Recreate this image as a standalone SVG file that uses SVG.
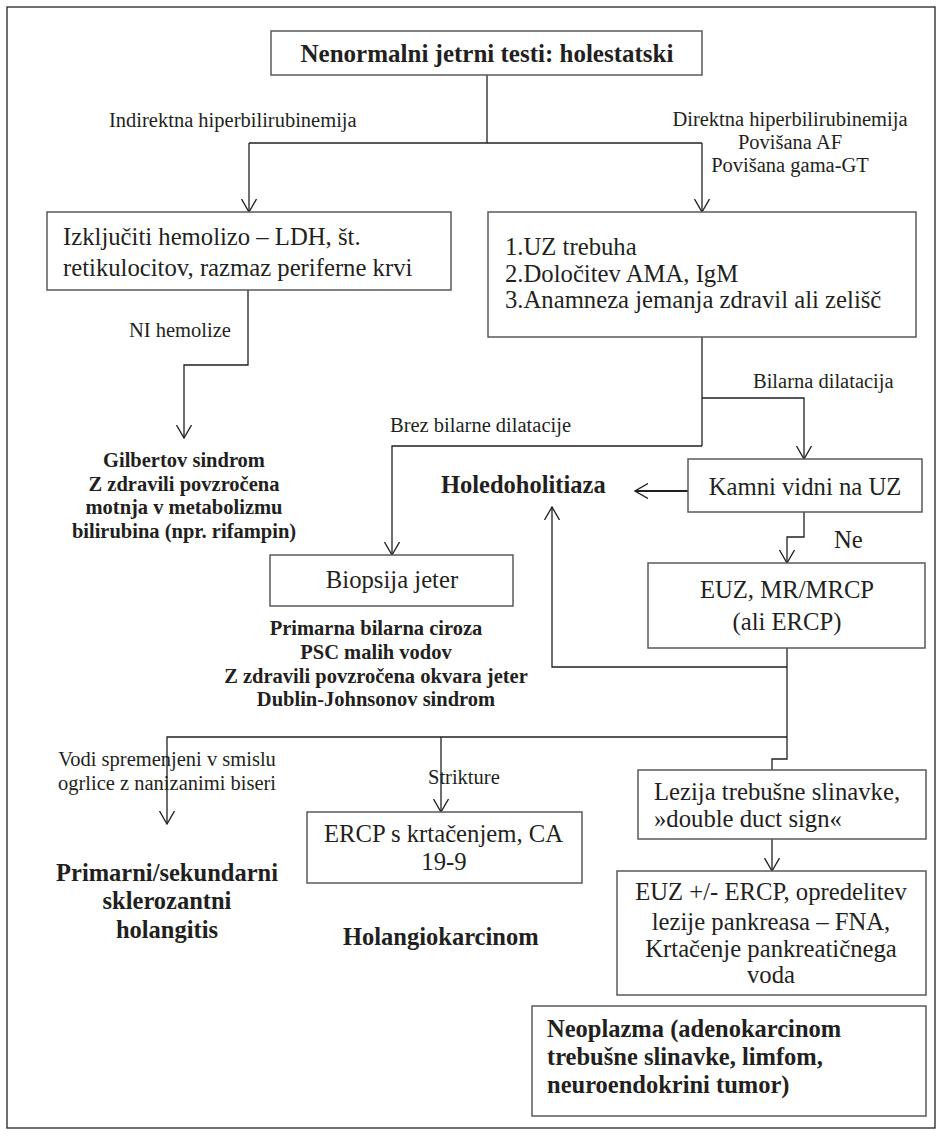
<svg xmlns="http://www.w3.org/2000/svg" width="941" height="1136" viewBox="0 0 941 1136">
<style>
text{font-family:"Liberation Serif","Times New Roman",serif;fill:#231f20}
.box{fill:#fff;stroke:#58595b;stroke-width:1.5}
.bt{font-size:24.7px}
.lb{font-size:20.5px}
.b{font-weight:bold}
.c{text-anchor:middle}
.ln{fill:none;stroke:#231f20;stroke-width:1.3}
</style>
<defs>
<marker id="ah" viewBox="0 0 14 16" refX="13" refY="8" markerWidth="14" markerHeight="16" markerUnits="userSpaceOnUse" orient="auto">
<path d="M0,0.5 L13,8 L0,15.5" fill="none" stroke="#231f20" stroke-width="1.3"/>
</marker>
</defs>
<rect x="0" y="0" width="941" height="1136" fill="#fff"/>
<rect x="7" y="7" width="928" height="1121" fill="none" stroke="#231f20" stroke-width="1.3"/>

<g id="connectors">
<path class="ln" d="M487,75 V143"/>
<path class="ln" d="M249,143 H702"/>
<path class="ln" d="M249,143 V212" marker-end="url(#ah)"/>
<path class="ln" d="M702,143 V212" marker-end="url(#ah)"/>
<path class="ln" d="M248,290 V365 H184 V438" marker-end="url(#ah)"/>
<path class="ln" d="M702,337 V446"/>
<path class="ln" d="M702,398 H804 V459" marker-end="url(#ah)"/>
<path class="ln" d="M702,446 H392 V555" marker-end="url(#ah)"/>
<path d="M688,491 H635" fill="none" stroke="#231f20" stroke-width="2.2" marker-end="url(#ah)"/>
<path class="ln" d="M804,512 V537 H787 V563" marker-end="url(#ah)"/>
<path class="ln" d="M787,648 V737"/>
<path class="ln" d="M787,667 H552 V507" marker-end="url(#ah)"/>
<path class="ln" d="M787,737 H167 V824" marker-end="url(#ah)"/>
<path class="ln" d="M441,737 V812" marker-end="url(#ah)"/>
<path class="ln" d="M787,737 V759 H772 V770"/>
<path class="ln" d="M772,839 V871" marker-end="url(#ah)"/>
</g>

<g id="n-title">
<rect class="box" x="271" y="31" width="431" height="44"/>
<text class="b c" x="487" y="62" font-size="25">Nenormalni jetrni testi: holestatski</text>
</g>

<g id="l-indirektna">
<text class="lb" x="109" y="127">Indirektna hiperbilirubinemija</text>
</g>

<g id="l-direktna">
<text class="lb c" x="790" y="126">Direktna hiperbilirubinemija</text>
<text class="lb c" x="790" y="149">Povišana AF</text>
<text class="lb c" x="790" y="172">Povišana gama-GT</text>
</g>

<g id="n-hemoliza">
<rect class="box" x="47" y="212" width="404" height="78"/>
<text class="bt" x="63" y="245">Izključiti hemolizo – LDH, št.</text>
<text class="bt" x="63" y="276">retikulocitov, razmaz periferne krvi</text>
</g>

<g id="n-uz">
<rect class="box" x="488" y="212" width="428" height="125"/>
<text class="bt" x="505" y="255">1.UZ trebuha</text>
<text class="bt" x="505" y="282">2.Določitev AMA, IgM</text>
<text class="bt" x="505" y="308">3.Anamneza jemanja zdravil ali zelišč</text>
</g>

<g id="l-ni-hemolize">
<text class="lb" x="129" y="337">NI hemolize</text>
</g>

<g id="l-bilarna">
<text class="lb" x="753" y="388">Bilarna dilatacija</text>
</g>

<g id="l-brez">
<text class="lb" x="390" y="432">Brez bilarne dilatacije</text>
</g>

<g id="n-gilbert">
<text class="lb b c" x="184" y="467">Gilbertov sindrom</text>
<text class="lb b c" x="184" y="491">Z zdravili povzročena</text>
<text class="lb b c" x="184" y="514">motnja v metabolizmu</text>
<text class="lb b c" x="184" y="538">bilirubina (npr. rifampin)</text>
</g>

<g id="n-holedoholitiaza">
<text class="b" x="441" y="493" font-size="24.5">Holedoholitiaza</text>
</g>

<g id="n-kamni">
<rect class="box" x="688" y="459" width="234" height="53"/>
<text class="bt c" x="805" y="495">Kamni vidni na UZ</text>
</g>

<g id="l-ne">
<text class="bt" x="834" y="548">Ne</text>
</g>

<g id="n-euz">
<rect class="box" x="648" y="563" width="277" height="85"/>
<text class="bt c" x="787" y="598">EUZ, MR/MRCP</text>
<text class="bt c" x="787" y="630">(ali ERCP)</text>
</g>

<g id="n-biopsija">
<rect class="box" x="270" y="555" width="243" height="51"/>
<text class="bt c" x="392" y="588">Biopsija jeter</text>
</g>

<g id="n-biopsija-izid">
<text class="lb b c" x="376" y="635">Primarna bilarna ciroza</text>
<text class="lb b c" x="376" y="659">PSC malih vodov</text>
<text class="lb b c" x="376" y="683">Z zdravili povzročena okvara jeter</text>
<text class="lb b c" x="376" y="706">Dublin-Johnsonov sindrom</text>
</g>

<g id="l-vodi">
<text class="lb c" x="167" y="766">Vodi spremenjeni v smislu</text>
<text class="lb c" x="167" y="790">ogrlice z nanizanimi biseri</text>
</g>

<g id="l-strikture">
<text class="lb" x="428" y="784">Strikture</text>
</g>

<g id="n-ercp">
<rect class="box" x="307" y="812" width="275" height="71"/>
<text class="bt" x="324" y="842">ERCP s krtačenjem, CA</text>
<text class="bt c" x="444" y="870">19-9</text>
</g>

<g id="n-psc">
<text class="b c" x="167" y="881" font-size="24.5">Primarni/sekundarni</text>
<text class="b c" x="167" y="909" font-size="24.5">sklerozantni</text>
<text class="b c" x="167" y="938" font-size="24.5">holangitis</text>
</g>

<g id="n-holangiokarcinom">
<text class="b" x="343" y="945" font-size="24.5">Holangiokarcinom</text>
</g>

<g id="n-lezija">
<rect class="box" x="638" y="770" width="288" height="69"/>
<text class="bt" x="654" y="800">Lezija trebušne slinavke,</text>
<text class="bt" x="654" y="827">»double duct sign«</text>
</g>

<g id="n-euz-ercp">
<rect class="box" x="617" y="871" width="309" height="124"/>
<text class="bt c" x="771" y="900">EUZ +/- ERCP, opredelitev</text>
<text class="bt c" x="771" y="930">lezije pankreasa – FNA,</text>
<text class="bt c" x="771" y="957">Krtačenje pankreatičnega</text>
<text class="bt c" x="771" y="983">voda</text>
</g>

<g id="n-neoplazma">
<rect class="box" x="532" y="1006" width="394" height="110"/>
<text class="b" x="547" y="1037" font-size="24.5">Neoplazma (adenokarcinom</text>
<text class="b" x="547" y="1065" font-size="24.5">trebušne slinavke, limfom,</text>
<text class="b" x="547" y="1093" font-size="24.5">neuroendokrini tumor)</text>
</g>
</svg>
